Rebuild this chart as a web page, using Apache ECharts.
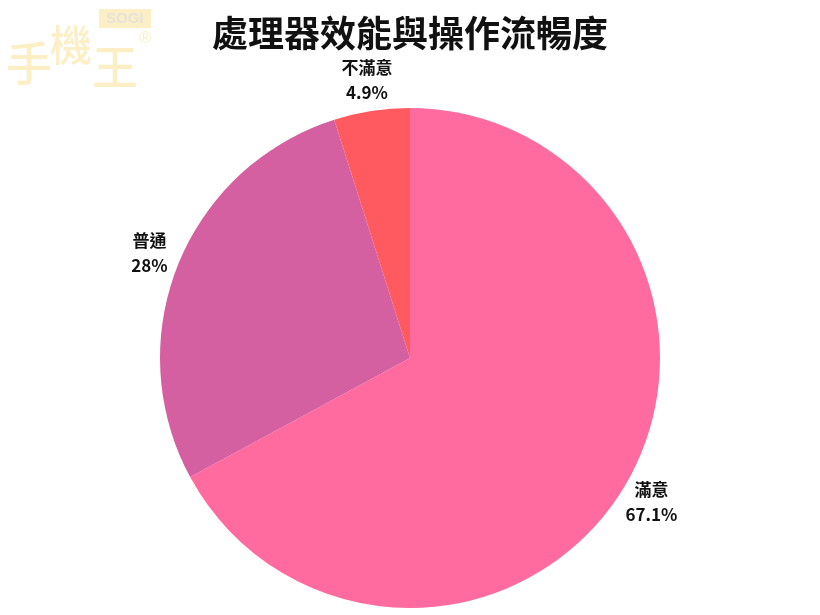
<!DOCTYPE html>
<html><head><meta charset="utf-8">
<script src="https://cdn.jsdelivr.net/npm/echarts@6/dist/echarts.min.js"></script>
<style>html,body{margin:0;padding:0;background:#fff}#c{width:820px;height:615px}</style>
</head><body><div id="c"></div>
<script>
const categories = ['滿意', '普通', '不滿意'];
const values = [67.1, 28, 4.9];
const colors = ['#FF6B9E', '#D45FA1', '#FF5A5F'];

const CX = 410, CY = 358, R = 250, LABEL_R = 281, START = 90;
const total = values.reduce((a, b) => a + b, 0);
function midAngle(i) {
  let before = 0;
  for (let k = 0; k < i; k++) before += values[k];
  const frac = (before + values[i] / 2) / total;
  return (START - frac * 360) * Math.PI / 180;
}

const logoColor = '#FCEFC6';
const chart = echarts.init(document.getElementById('c'));
chart.setOption({
  backgroundColor: '#fff',
  title: {
    text: '處理器效能與操作流暢度',
    left: 'center', top: 10,
    textStyle: {fontFamily: 'Noto Sans CJK TC', fontWeight: 'bold', fontSize: 36, color: '#111'}
  },
  graphic: [
    {type: 'text', left: 6, top: 40, style: {text: '手', font: '500 46px "Noto Sans CJK TC"', fill: logoColor}},
    {type: 'text', left: 50, top: 24, style: {text: '機', font: '500 42px "Noto Sans CJK TC"', fill: logoColor}},
    {type: 'text', left: 92, top: 44, style: {text: '王', font: '500 46px "Noto Sans CJK TC"', fill: logoColor}},
    {type: 'rect', left: 99, top: 9, shape: {width: 52, height: 19}, style: {fill: logoColor}},
    {type: 'text', left: 106, top: 11, style: {text: 'SOGI', font: 'bold 15px "Liberation Sans"', fill: '#E6E2D6'}},
    {type: 'text', left: 139, top: 30, style: {text: '®', font: '17px "Liberation Sans"', fill: logoColor}}
  ],
  series: [{
    type: 'pie',
    center: [CX, CY],
    radius: [0, R],
    startAngle: START,
    clockwise: true,
    itemStyle: {borderWidth: 0},
    label: {
      show: true, position: 'outside',
      formatter: '{b}\n{c}%',
      fontFamily: 'Noto Sans CJK TC', fontWeight: 'bold', fontSize: 17,
      color: '#111', lineHeight: 25
    },
    labelLine: {show: false},
    labelLayout: function (params) {
      const a = midAngle(params.dataIndex);
      return {
        x: CX + LABEL_R * Math.cos(a),
        y: CY - LABEL_R * Math.sin(a),
        align: 'center',
        verticalAlign: 'middle'
      };
    },
    emphasis: {disabled: true},
    data: categories.map((n, i) => ({name: n, value: values[i], itemStyle: {color: colors[i]}}))
  }]
});
</script></body></html>
